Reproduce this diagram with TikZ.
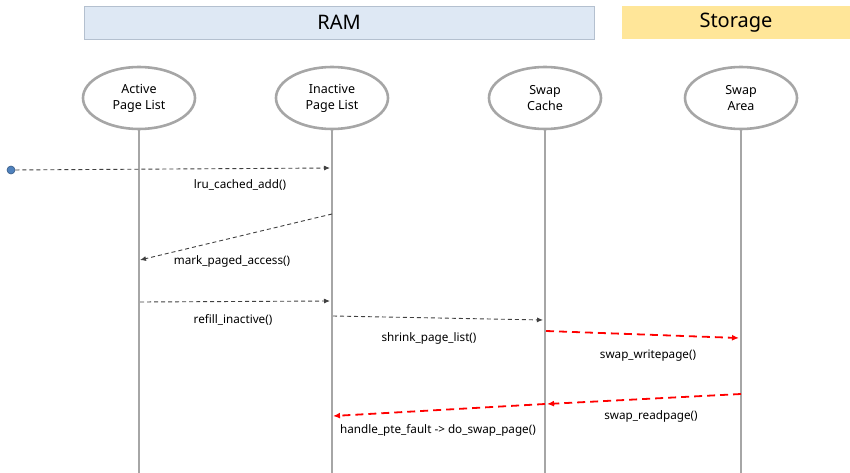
\documentclass[tikz,border=0pt]{standalone}
\usepackage{fontspec}
\setmainfont{Noto Sans}
\usetikzlibrary{arrows.meta,shapes.geometric}
\definecolor{ramfill}{HTML}{DEE8F4}
\definecolor{ramline}{HTML}{B4C0CF}
\definecolor{stofill}{HTML}{FFE699}
\definecolor{lifegray}{HTML}{A6A6A6}
\definecolor{msggray}{HTML}{404040}
\definecolor{dotblue}{HTML}{4F81BD}
\tikzset{
  header/.style={minimum height=33pt,inner sep=0pt,font=\fontsize{20}{22}\selectfont},
  actor/.style={ellipse,draw=lifegray,line width=2.6pt,minimum width=112pt,minimum height=62pt,inner sep=0pt,align=center,font=\fontsize{12.5}{16}\selectfont},
  lifeline/.style={draw=lifegray,line width=2.8pt},
  msg/.style={draw=msggray,line width=0.9pt,dash pattern=on 4pt off 3pt,-{Latex[length=6pt,width=5pt]}},
  redmsg/.style={draw=red,line width=1.8pt,dash pattern=on 8pt off 5pt,-{Latex[length=7pt,width=6pt]}},
  lbl/.style={font=\fontsize{11.7}{13}\selectfont,text=black,inner sep=0pt}
}
\begin{document}
\begin{tikzpicture}[x=1pt,y=-1pt]
\useasboundingbox (0,0) rectangle (850,473);
% headers
\node[header,draw=ramline,line width=0.8pt,fill=ramfill,minimum width=510pt] (ram) at (339,22.5) {RAM};
\node[header,fill=stofill,minimum width=228pt] (sto) at (736,22.5) {Storage};
% actors
\node[actor] (apl) at (139,98) {Active\\Page List};
\node[actor] (ipl) at (332,98) {Inactive\\Page List};
\node[actor] (sc) at (545,98) {Swap\\Cache};
\node[actor] (sa) at (741,98) {Swap\\Area};
% lifeline ends
\coordinate (aplE) at (139,473);
\coordinate (iplE) at (332,473);
\coordinate (scE) at (545,473);
\coordinate (saE) at (741,473);
\draw[lifeline] (apl.south) -- (aplE);
\draw[lifeline] (ipl.south) -- (iplE);
\draw[lifeline] (sc.south) -- (scE);
\draw[lifeline] (sa.south) -- (saE);
% message points
\node[circle,fill=dotblue,draw=dotblue!70!black,line width=0.6pt,minimum size=8pt,inner sep=0pt] (start) at (11,170) {};
\coordinate (m1e) at (330,168);
\coordinate (m2s) at (332,214);
\coordinate (m2e) at (140,260);
\coordinate (m3s) at (140,302);
\coordinate (m3e) at (330,301);
\coordinate (m4s) at (333,316);
\coordinate (m4e) at (543,320);
\coordinate (m5s) at (546,331);
\coordinate (m5e) at (739,338);
\coordinate (m6s) at (741,394);
\coordinate (m6e) at (547,404);
\coordinate (m7s) at (545,404);
\coordinate (m7e) at (333,416);
% messages
\draw[msg] (start) -- (m1e);
\draw[msg] (m2s) -- (m2e);
\draw[msg] (m3s) -- (m3e);
\draw[msg] (m4s) -- (m4e);
\draw[redmsg] (m5s) -- (m5e);
\draw[redmsg] (m6s) -- (m6e);
\draw[redmsg] (m7s) -- (m7e);
% labels
\node[lbl] (l1) at (240,185) {lru\_cached\_add()};
\node[lbl] (l2) at (232,261) {mark\_paged\_access()};
\node[lbl] (l3) at (233,320) {refill\_inactive()};
\node[lbl] (l4) at (429,338) {shrink\_page\_list()};
\node[lbl] (l5) at (648,356) {swap\_writepage()};
\node[lbl] (l6) at (651,416) {swap\_readpage()};
\node[lbl] (l7) at (438,430) {handle\_pte\_fault -> do\_swap\_page()};
\end{tikzpicture}
\end{document}
